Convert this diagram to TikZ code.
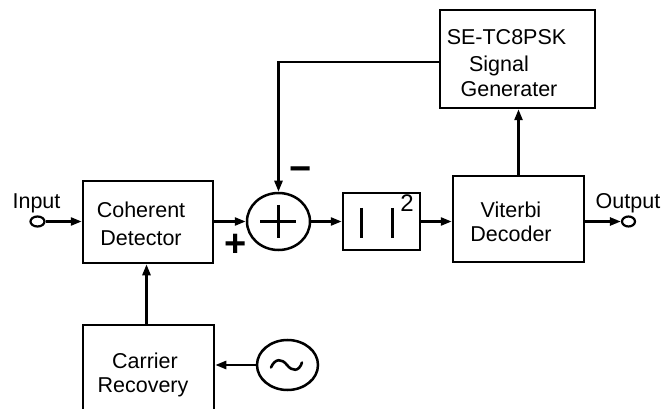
\documentclass[tikz,border=0pt]{standalone}
\usepackage{fontspec}
\setmainfont{Liberation Sans}
\usetikzlibrary{arrows.meta,shapes.geometric}
\begin{document}
\begin{tikzpicture}[x=1pt,y=-1pt,line width=2.5pt,
  >={Triangle[length=11pt,width=8pt]},
  box/.style={draw,inner sep=0pt},
  ell/.style={draw,ellipse,inner sep=0pt},
  txt/.style={font=\fontsize{21.5}{25}\selectfont,anchor=base,inner sep=0pt},
  sgn/.style={font=\fontsize{38}{38}\selectfont\bfseries,inner sep=0pt}]
\useasboundingbox (0,0) rectangle (662,409);
\clip (0,0) rectangle (662,409);
% blocks
\node[box,minimum width=130pt,minimum height=82pt] (cd) at (148,222) {};
\node[box,minimum width=131pt,minimum height=90pt] (cr) at (148.5,370) {};
\node[ell,minimum width=63pt,minimum height=57pt] (sum) at (278.5,221.5) {};
\node[box,minimum width=77pt,minimum height=57pt] (sq) at (381.5,221.5) {};
\node[box,minimum width=131pt,minimum height=86pt] (vit) at (518.5,219) {};
\node[box,minimum width=155pt,minimum height=98pt] (se) at (517.5,59) {};
\node[ell,minimum width=61pt,minimum height=50pt] (osc) at (287.5,365) {};
\node[ell,line width=2.2pt,minimum width=14pt,minimum height=10pt] (in) at (37.5,221.5) {};
\node[ell,line width=2.2pt,minimum width=13pt,minimum height=10pt] (out) at (628.5,221.5) {};
% texts
\node[txt] (tin) at (36.5,209) {Input};
\node[txt] (tout) at (628,209) {Output};
\node[txt] (cd1) at (141,218) {Coherent};
\node[txt] (cd2) at (141,245) {Detector};
\node[txt] (vt1) at (511,218) {Viterbi};
\node[txt] (vt2) at (511,242) {Decoder};
\node[txt] (se1) at (506.5,45) {SE-TC8PSK};
\node[txt] (se2) at (499,72) {Signal};
\node[txt] (se3) at (509,97) {Generater};
\node[txt] (cr1) at (145,368) {Carrier};
\node[txt] (cr2) at (143,392) {Recovery};
\node[sgn] (plus) at (235.5,245.5) {+};
\node[sgn] (minus) at (300.5,174) {\char"2212};
\node[font=\fontsize{24}{24}\selectfont,inner sep=0pt] (two) at (407,203.5) {2};
% symbols
\draw (260,221.5) -- (296,221.5) (278.5,205) -- (278.5,238);
\draw[line width=3pt] (361,208) -- (361,238) (392,208) -- (392,238);
\draw[line width=2.6pt,line cap=round] (271,367.5) .. controls (275,358) and (282,358.5) .. (287,365) .. controls (292,371.5) and (299,372) .. (302,362.5);
% connectors
\draw[->] (in.east) -- (in.east -| cd.west);
\draw[->] (cd.east |- sum.west) -- (sum.west);
\draw[->] (sum.east) -- (sq.west);
\draw[->] (sq.east) -- (sq.east -| vit.west);
\draw[->] (out.west -| vit.east) -- (out.west);
\draw[->] (vit.north) -- (vit.north |- se.south);
\draw[->] ([yshift=-3pt]se.west) -| (sum.north);
\draw[->] ([xshift=-2pt]cr.north) -- ([xshift=-2pt]cr.north |- cd.south);
\draw[->] (osc.west) -- (osc.west -| cr.east);
\end{tikzpicture}
\end{document}
